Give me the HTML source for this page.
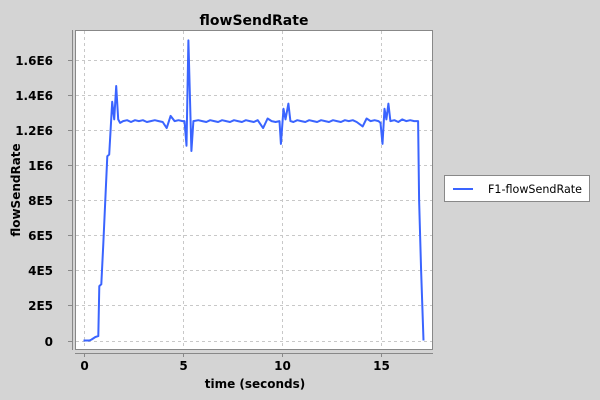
<!DOCTYPE html>
<html><head><meta charset="utf-8"><style>
html,body{margin:0;padding:0;background:#d4d4d4;}
svg{display:block;font-family:"DejaVu Sans","Liberation Sans",sans-serif;}
</style></head><body>
<svg id="chart" width="600" height="400">
  <rect x="0" y="0" width="600" height="400" fill="#d4d4d4"/>
  <text x="254" y="25" font-size="14" font-weight="bold" text-anchor="middle" fill="#000">flowSendRate</text>
  <rect x="75.5" y="30.5" width="357" height="319" fill="#fff" stroke="#888"/>
  <g id="grid"></g>
  <g id="axes"></g>
  <path id="series" fill="none" stroke="#3a64ff" stroke-width="2" stroke-linejoin="round"/>
  <text x="255" y="388" font-size="12" font-weight="bold" text-anchor="middle">time (seconds)</text>
  <text transform="translate(20,190) rotate(-90)" font-size="12" font-weight="bold" text-anchor="middle">flowSendRate</text>
  <g>
    <rect x="444.5" y="175.5" width="145" height="26" fill="#fff" stroke="#888"/>
    <line x1="453" y1="189" x2="473" y2="189" stroke="#3a64ff" stroke-width="2"/>
    <text x="488" y="193" font-size="11.5" textLength="94" lengthAdjust="spacingAndGlyphs" fill="#000">F1-flowSendRate</text>
  </g>
</svg>
<script>
const xTicks = [0, 5, 10, 15];
const yTicks = [0, 200000, 400000, 600000, 800000, 1000000, 1200000, 1400000, 1600000];
const yTickLabels = ["0", "2E5", "4E5", "6E5", "8E5", "1E6", "1.2E6", "1.4E6", "1.6E6"];
const times = [0.0,0.3,0.4,0.6,0.75,0.8,0.9,1.0,1.2,1.3,1.45,1.55,1.65,1.75,1.85,2.0,2.2,2.4,2.6,2.8,3.0,3.2,3.4,3.6,3.8,4.0,4.2,4.4,4.6,4.8,5.0,5.1,5.2,5.3,5.45,5.55,5.8,6.0,6.2,6.4,6.6,6.8,7.0,7.2,7.4,7.6,7.8,8.0,8.2,8.4,8.6,8.8,9.07,9.3,9.5,9.7,9.9,9.97,10.1,10.2,10.35,10.45,10.6,10.8,11.0,11.2,11.4,11.6,11.8,12.0,12.2,12.4,12.6,12.8,13.0,13.2,13.4,13.6,13.8,14.1,14.3,14.5,14.7,14.9,15.0,15.1,15.2,15.3,15.4,15.5,15.7,15.9,16.1,16.3,16.5,16.7,16.9,16.95,17.05,17.17];
const values = [0,0,5000,20000,25000,310000,320000,550000,1050000,1060000,1360000,1260000,1450000,1260000,1240000,1250000,1255000,1245000,1255000,1250000,1255000,1245000,1250000,1255000,1250000,1245000,1210000,1280000,1250000,1255000,1250000,1250000,1110000,1710000,1080000,1250000,1255000,1250000,1245000,1255000,1250000,1245000,1255000,1250000,1245000,1255000,1250000,1245000,1255000,1250000,1245000,1255000,1210000,1265000,1250000,1245000,1250000,1120000,1320000,1260000,1350000,1250000,1245000,1255000,1250000,1245000,1255000,1250000,1245000,1255000,1250000,1245000,1255000,1250000,1245000,1255000,1250000,1255000,1245000,1220000,1265000,1250000,1255000,1250000,1240000,1120000,1320000,1260000,1350000,1250000,1255000,1245000,1260000,1250000,1255000,1250000,1250000,800000,400000,0];

const xScale = t => 83.5 + t * 19.8;
const yScale = v => 340.5 - v / 200000 * 35.1;
const NS = "http://www.w3.org/2000/svg";
const grid = document.getElementById("grid");
const axes = document.getElementById("axes");
function mk(tag, attrs, parent) {
  const e = document.createElementNS(NS, tag);
  for (const k in attrs) e.setAttribute(k, attrs[k]);
  parent.appendChild(e);
  return e;
}
mk("line", {x1: 72.5, y1: 30, x2: 72.5, y2: 350, stroke: "#888"}, axes);
mk("line", {x1: 75, y1: 353.5, x2: 433, y2: 353.5, stroke: "#888"}, axes);
xTicks.forEach(t => {
  const x = Math.round(xScale(t)) + 0.5;
  const g = mk("line", {x1: x, y1: 31, x2: x, y2: 349, stroke: "#c8c8c8", "stroke-dasharray": "3,3"}, grid);
  
  
  mk("line", {x1: x, y1: 353, x2: x, y2: 357, stroke: "#888"}, axes);
  const l = mk("text", {x: x, y: 370, "font-size": 12, "font-weight": "bold", "text-anchor": "middle"}, axes);
  l.textContent = String(t);
  
  
});
yTicks.forEach((v, i) => {
  const y = Math.round(yScale(v)) + 0.5;
  const g = mk("line", {x1: 76, y1: y, x2: 432, y2: y, stroke: "#c8c8c8", "stroke-dasharray": "3,3"}, grid);
  
  
  mk("line", {x1: 68, y1: y, x2: 72, y2: y, stroke: "#888"}, axes);
  const l = mk("text", {x: 53, y: y + 4.5, "font-size": 12, "font-weight": "bold", "text-anchor": "end"}, axes);
  l.textContent = yTickLabels[i];
  
  
});
let d = "";
times.forEach((t, i) => { d += (i ? "L" : "M") + xScale(t).toFixed(1) + "," + yScale(values[i]).toFixed(1); });
document.getElementById("series").setAttribute("d", d);
</script>
</body></html>
